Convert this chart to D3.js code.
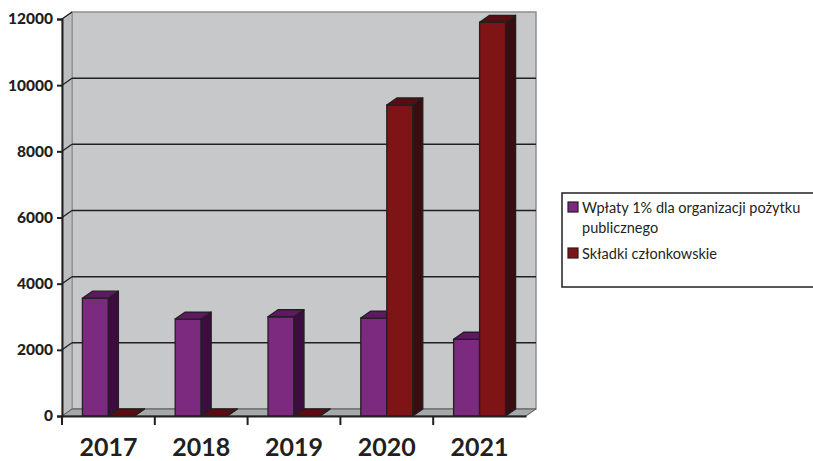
<!DOCTYPE html>
<html lang="pl">
<head>
<meta charset="UTF-8">
<title>Wpłaty i składki</title>
<script src="https://d3js.org/d3.v7.min.js"></script>
<style>
  body { margin: 0; background: #fff; }
  text { font-family: Lato, "Open Sans", sans-serif; fill: #231f20; }
</style>
</head>
<body>
<div id="chart"></div>
<script>
// data
const years = ["2017", "2018", "2019", "2020", "2021"];
const seriesNames = ["Wpłaty 1% dla organizacji pożytku publicznego", "Składki członkowskie"];
const wplaty = [3560, 2930, 3000, 2960, 2320];
const skladki = [0, 0, 0, 9400, 11900];
const yTicks = [0, 2000, 4000, 6000, 8000, 10000, 12000];

const width = 813, height = 461;
const dx = 10, dy = -7; // 3d depth offset

const svg = d3.select("#chart").append("svg")
    .attr("width", width).attr("height", height);

const x = d3.scaleBand().domain(years).range([62, 526]);
const bw = x.bandwidth();
const x1 = d3.scaleBand().domain([0, 1]).range([bw / 2 - 26, bw / 2 + 26]);
const y = d3.scaleLinear().domain([0, 12000]).range([416, 19]);

const x0 = x.range()[0], xEnd = x.range()[1];
const yTop = y(12000), yBot = y(0);

const colors = [
    { front: "#7b2a7f", side: "#3d0d3f", top: "#5e1a61" },
    { front: "#7e1416", side: "#3a0d0f", top: "#5a0d10" }
];

// back wall
svg.append("rect")
    .attr("x", x0 + dx).attr("y", yTop + dy)
    .attr("width", xEnd - x0).attr("height", yBot - yTop)
    .attr("fill", "#c7c8ca").attr("stroke", "#8e8e8e").attr("stroke-width", 1.5);

// left side wall
svg.append("path")
    .attr("d", `M${x0},${yTop}L${x0 + dx},${yTop + dy}L${x0 + dx},${yBot + dy}L${x0},${yBot}Z`)
    .attr("fill", "#bdbec0").attr("stroke", "#8e8e8e").attr("stroke-width", 1);

// floor
svg.append("path")
    .attr("d", `M${x0},${yBot}L${x0 + dx},${yBot + dy}L${xEnd + dx},${yBot + dy}L${xEnd},${yBot}Z`)
    .attr("fill", "#a7a8aa").attr("stroke", "#555").attr("stroke-width", 1);

// gridlines on back and side wall
const grid = svg.append("g");
yTicks.filter(t => t > 0).forEach(t => {
    if (t < 12000) {
        grid.append("line")
            .attr("x1", x0 + dx).attr("x2", xEnd + dx)
            .attr("y1", y(t) + dy).attr("y2", y(t) + dy)
            .attr("stroke", "#231f20").attr("stroke-width", 1.5);
    }
    grid.append("line")
        .attr("x1", x0).attr("x2", x0 + dx)
        .attr("y1", y(t)).attr("y2", y(t) + dy)
        .attr("stroke", "#231f20").attr("stroke-width", 1.3);
});

// y axis
const yAxis = svg.append("g")
    .attr("transform", `translate(${x0},0)`)
    .call(d3.axisLeft(y).tickValues(yTicks).tickSize(5).tickPadding(4).tickFormat(d3.format("d")));
yAxis.select(".domain").attr("stroke", "#231f20").attr("stroke-width", 2);
yAxis.selectAll(".tick line").attr("stroke", "#231f20").attr("stroke-width", 2);
yAxis.selectAll(".tick text")
    .style("font-family", "Lato, sans-serif").style("font-size", "15.5px").style("font-weight", "900")
    .attr("fill", "#231f20");

// bars
function bar(g, xl, v, c) {
    const w = x1.bandwidth();
    const yt = y(v);
    g.append("rect").attr("x", xl).attr("y", yt).attr("width", w).attr("height", yBot - yt)
        .attr("fill", c.front).attr("stroke", "#231f20").attr("stroke-width", 1.3);
    g.append("path")
        .attr("d", `M${xl + w},${yt}L${xl + w + dx},${yt + dy}L${xl + w + dx},${yBot + dy}L${xl + w},${yBot}Z`)
        .attr("fill", c.side).attr("stroke", "#231f20").attr("stroke-width", 1.3).attr("stroke-linejoin", "round");
    g.append("path")
        .attr("d", `M${xl},${yt}L${xl + dx},${yt + dy}L${xl + w + dx},${yt + dy}L${xl + w},${yt}Z`)
        .attr("fill", c.top).attr("stroke", "#231f20").attr("stroke-width", 1.3).attr("stroke-linejoin", "round");
}
const bars = svg.append("g");
years.forEach((yr, i) => {
    [wplaty[i], skladki[i]].forEach((v, s) => {
        bar(bars, x(yr) + x1(s), v, colors[s]);
    });
});

// x axis
const xAxis = svg.append("g")
    .attr("transform", `translate(0,${yBot})`)
    .call(d3.axisBottom(x).tickSize(0).tickPadding(22));
xAxis.select(".domain").attr("stroke", "#231f20").attr("stroke-width", 2);
xAxis.selectAll(".tick text")
    .style("font-family", "Lato, sans-serif").style("font-size", "25px").style("font-weight", "bold")
    .attr("fill", "#231f20");
years.forEach(yr => {
    xAxis.append("line")
        .attr("x1", x(yr)).attr("x2", x(yr)).attr("y1", 0).attr("y2", 9)
        .attr("stroke", "#231f20").attr("stroke-width", 2);
});

// legend
const leg = svg.append("g");
leg.append("rect").attr("x", 562).attr("y", 193).attr("width", 262).attr("height", 94)
    .attr("fill", "#fff").attr("stroke", "#231f20").attr("stroke-width", 1.5);
const legLines = [["Wpłaty 1% dla organizacji pożytku", "publicznego"], ["Składki członkowskie"]];
const legY = [202, 248];
legLines.forEach((lines, s) => {
    leg.append("rect").attr("x", 568).attr("y", legY[s]).attr("width", 10).attr("height", 10)
        .attr("fill", colors[s].front).attr("stroke", "#231f20").attr("stroke-width", 1.2);
    lines.forEach((t, j) => {
        leg.append("text").attr("x", 582).attr("y", legY[s] + 11 + j * 20)
            .style("font-size", "14.5px").text(t);
    });
});
</script>
</body>
</html>
